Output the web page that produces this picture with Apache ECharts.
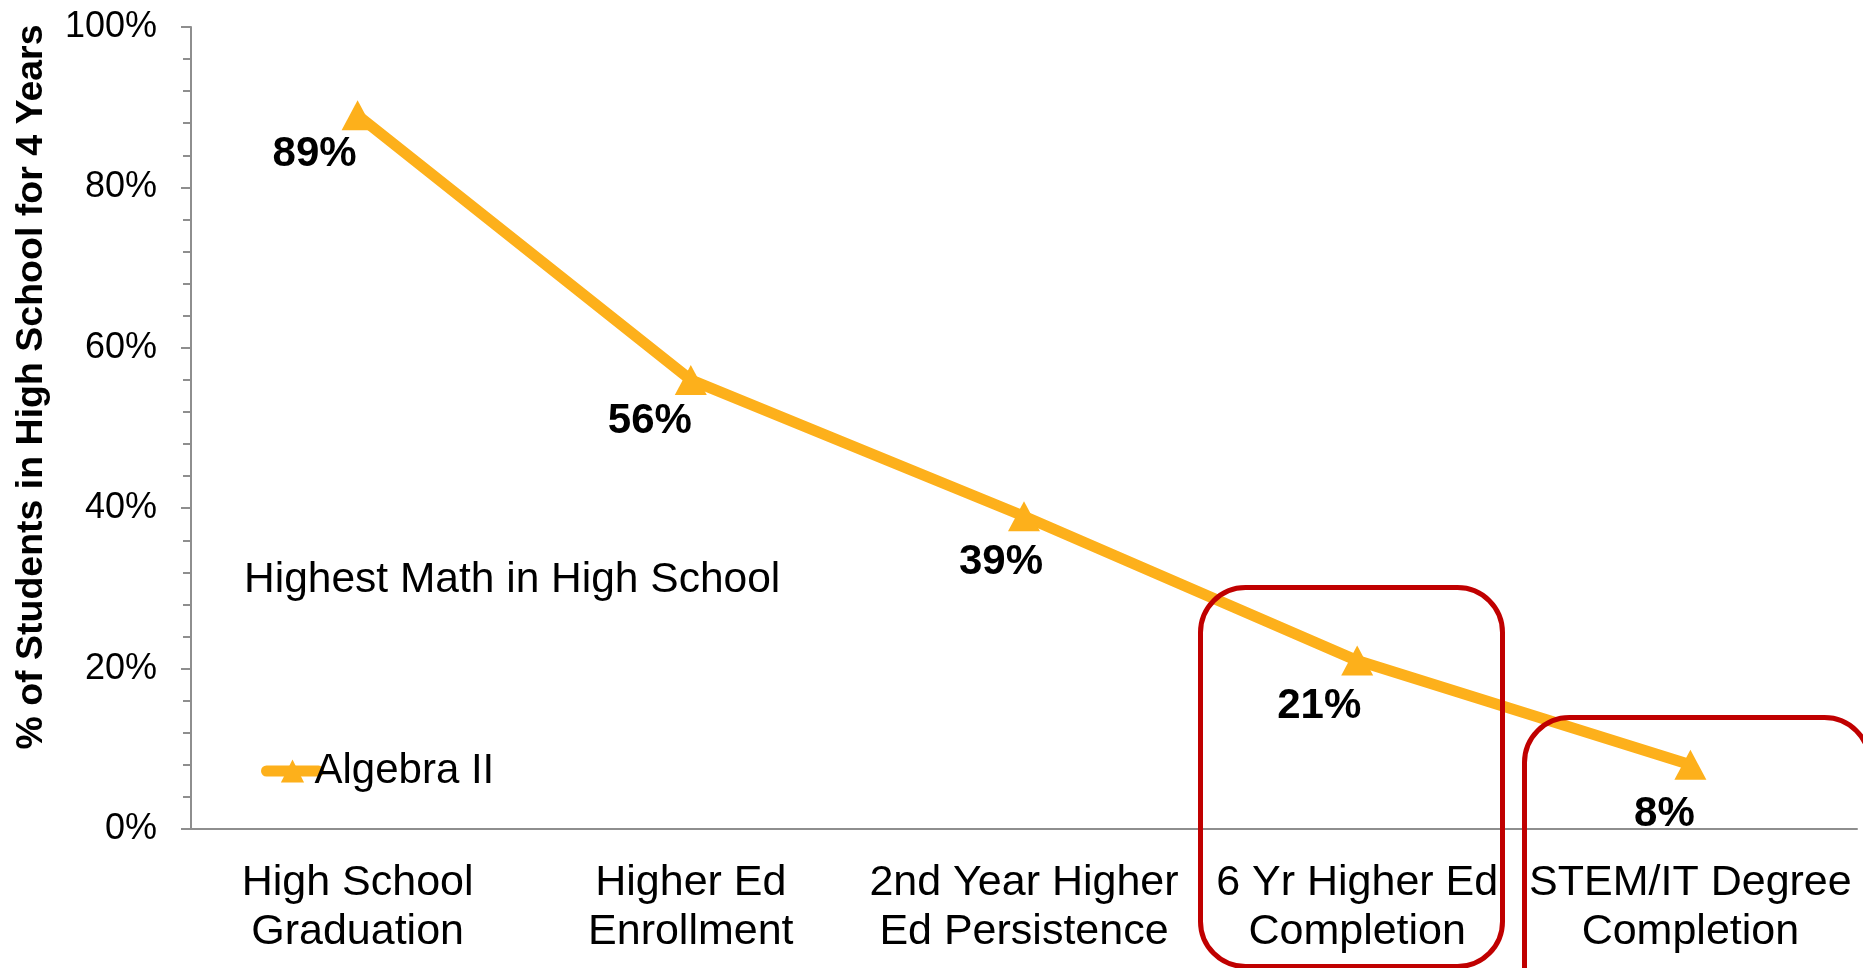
<!DOCTYPE html>
<html>
<head>
<meta charset="utf-8">
<script src="https://cdn.jsdelivr.net/npm/echarts@6/dist/echarts.min.js"></script>
<style>
html,body{margin:0;padding:0;background:#fff;}
#chart{width:1863px;height:968px;}
</style>
</head>
<body>
<div id="chart"></div>
<script>
const categories = [
  'High School\nGraduation',
  'Higher Ed\nEnrollment',
  '2nd Year Higher\nEd Persistence',
  '6 Yr Higher Ed\nCompletion',
  'STEM/IT Degree\nCompletion'
];
const seriesName = 'Algebra II';
const algebraII = [89, 56, 39, 21, 8];
const yTicks = [0, 20, 40, 60, 80, 100];
const labelOffsets = [[-43, 39], [-41, 42], [-23, 46], [-38, 46], [-26, 50]];

const FONT = '"Liberation Sans", Arial, sans-serif';
const ORANGE = '#FDB01B';
const RED = '#C00000';
const AXIS = '#8E8E8E';

const chart = echarts.init(document.getElementById('chart'), null, {renderer: 'canvas'});

const option = {
  backgroundColor: '#ffffff',
  animation: false,
  grid: {left: 191, right: 6, top: 27, bottom: 139, containLabel: false},
  legend: {
    show: true,
    data: [seriesName],
    left: 256,
    top: 745,
    itemWidth: 52,
    itemHeight: 29,
    itemGap: 0,
    lineStyle: {width: 11, cap: 'round', color: ORANGE},
    textStyle: {fontFamily: FONT, fontSize: 42, color: '#000', padding: [0, 0, 0, -9]}
  },
  xAxis: {
    type: 'category',
    data: categories,
    boundaryGap: true,
    axisLine: {show: true, lineStyle: {color: AXIS, width: 2}},
    axisTick: {show: false},
    splitLine: {show: false},
    axisLabel: {
      interval: 0,
      margin: 30,
      fontFamily: FONT,
      fontSize: 43,
      lineHeight: 49,
      color: '#000'
    }
  },
  yAxis: {
    type: 'value',
    min: yTicks[0],
    max: yTicks[yTicks.length - 1],
    interval: 20,
    name: '% of Students in High School for 4 Years',
    nameLocation: 'middle',
    nameGap: 140,
    nameTextStyle: {fontFamily: FONT, fontSize: 37.5, fontWeight: 'bold', color: '#000', padding: [0, 0, 0, 82]},
    axisLine: {show: true, lineStyle: {color: AXIS, width: 2}},
    axisTick: {show: true, length: 10, lineStyle: {color: AXIS, width: 2}},
    minorTick: {show: true, splitNumber: 5, length: 8, lineStyle: {color: AXIS, width: 2}},
    splitLine: {show: false},
    axisLabel: {
      margin: 34,
      fontFamily: FONT,
      fontSize: 36,
      color: '#000',
      formatter: '{value}%'
    }
  },
  series: [{
    name: seriesName,
    type: 'line',
    data: algebraII.map((v, i) => ({
      value: v,
      label: {offset: labelOffsets[i]}
    })),
    symbol: 'triangle',
    symbolSize: [32, 30],
    itemStyle: {color: ORANGE},
    lineStyle: {color: ORANGE, width: 11},
    z: 2,
    label: {
      show: true,
      position: 'inside',
      formatter: '{c}%',
      fontFamily: FONT,
      fontSize: 42,
      fontWeight: 'bold',
      color: '#000'
    }
  }],
  graphic: [
    {
      type: 'text',
      left: 244,
      top: 559,
      z: 10,
      style: {text: 'Highest Math in High School', fontFamily: FONT, fontSize: 42.5, fill: '#000'}
    },
    {
      type: 'rect',
      z: 20,
      shape: {x: 1200.5, y: 587.5, width: 302, height: 379, r: 45},
      style: {fill: 'none', stroke: RED, lineWidth: 5}
    },
    {
      type: 'rect',
      z: 20,
      shape: {x: 1524.5, y: 717.5, width: 345, height: 320, r: 45},
      style: {fill: 'none', stroke: RED, lineWidth: 5}
    }
  ]
};
chart.setOption(option);
</script>
</body>
</html>
